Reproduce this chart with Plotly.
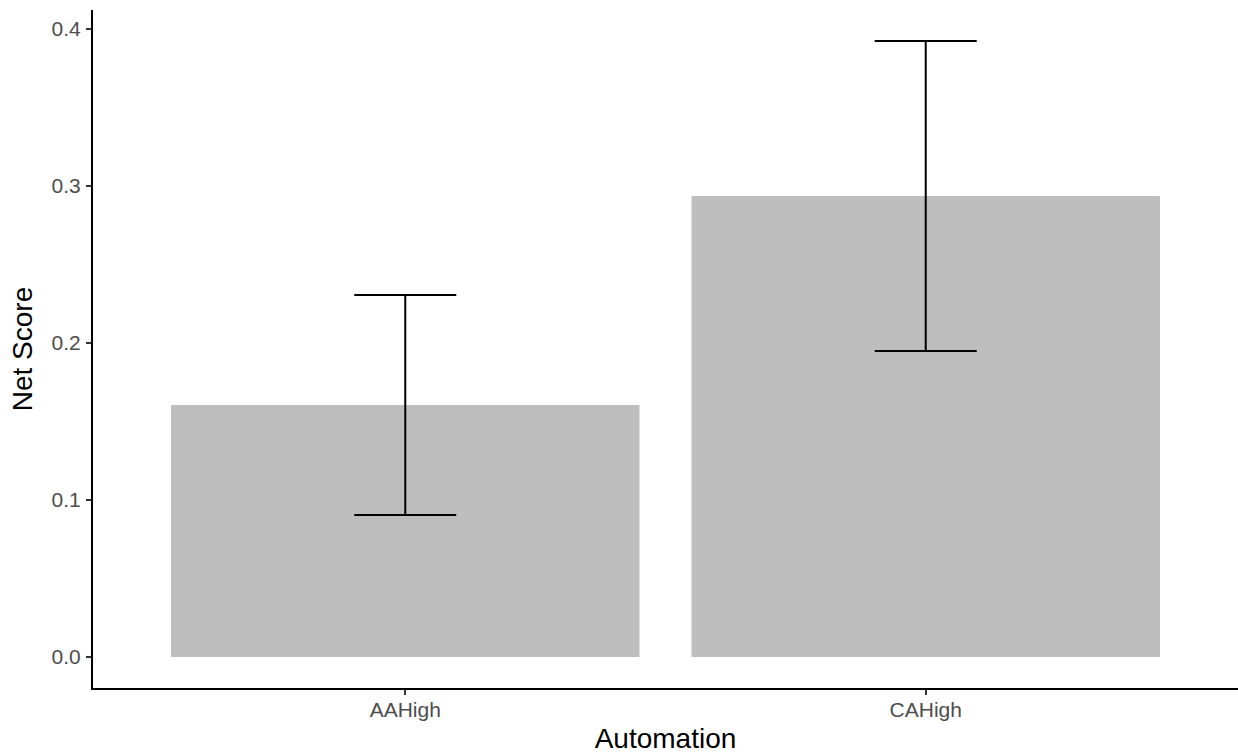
import plotly.graph_objects as go

categories = ["AAHigh", "CAHigh"]
net_score = [0.1605, 0.2936]
err_upper = [0.2306, 0.3924]
err_lower = [0.0904, 0.1949]

plus = [u - v for u, v in zip(err_upper, net_score)]
minus = [v - l for v, l in zip(net_score, err_lower)]

fig = go.Figure()
fig.add_trace(go.Bar(
    x=[0, 1], y=net_score, width=0.9,
    marker=dict(color="#BEBEBE", line=dict(width=0)),
    error_y=dict(type="data", symmetric=False, array=plus, arrayminus=minus,
                 color="black", thickness=2, width=51),
    showlegend=False,
))

fig.update_layout(
    width=1238, height=754,
    margin=dict(l=93, r=0, t=10, b=66),
    paper_bgcolor="white", plot_bgcolor="white",
    font=dict(family="Liberation Sans, Arial, sans-serif", color="black"),
    xaxis=dict(
        range=[-0.6, 1.6], tickmode="array", tickvals=[0, 1], ticktext=categories,
        showline=True, linecolor="black", linewidth=2, mirror=False,
        ticks="outside", ticklen=5, tickwidth=1.5, tickcolor="#333333",
        tickfont=dict(size=21, color="#4D4D4D"), ticklabelstandoff=-3,
        showgrid=False, zeroline=False,
        title=dict(text="Automation", font=dict(size=28, color="black"), standoff=8),
    ),
    yaxis=dict(
        range=[-0.01975, 0.4121], tickmode="array",
        tickvals=[0.0, 0.1, 0.2, 0.3, 0.4], ticktext=["0.0", "0.1", "0.2", "0.3", "0.4"],
        showline=True, linecolor="black", linewidth=2,
        ticks="outside", ticklen=5, tickwidth=1.5, tickcolor="#333333",
        tickfont=dict(size=21, color="#4D4D4D"), ticklabelstandoff=1,
        showgrid=False, zeroline=False,
        title=dict(text="Net Score", font=dict(size=28, color="black"), standoff=11),
    ),
)

fig.write_html("out.html")
